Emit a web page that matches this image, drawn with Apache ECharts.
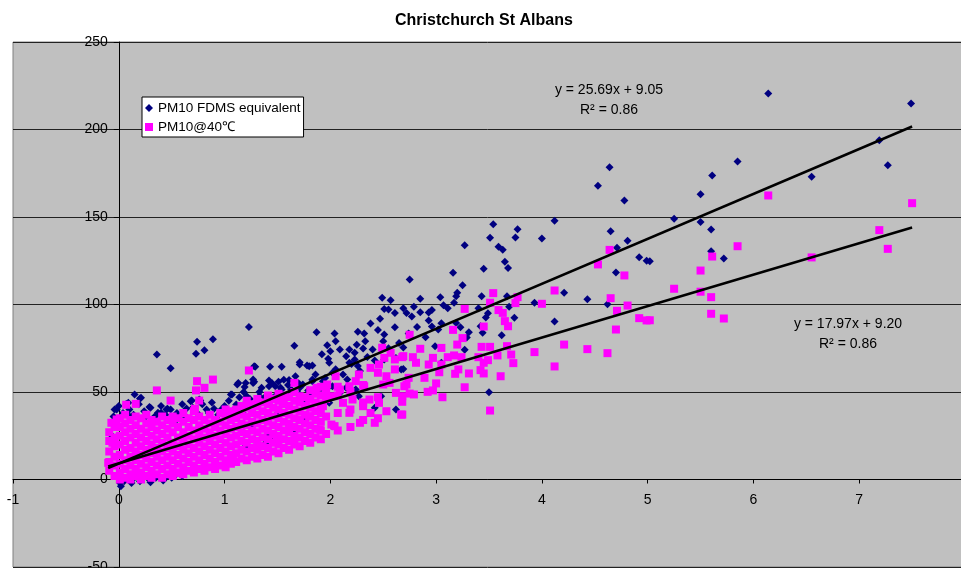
<!DOCTYPE html>
<html>
<head>
<meta charset="utf-8">
<script src="https://cdn.jsdelivr.net/npm/echarts@6/dist/echarts.min.js"></script>
<style>html,body{margin:0;padding:0;background:#fff}#chart{width:961px;height:568px}</style>
</head>
<body>
<div id="chart"></div>
<script>
// ---------- DATA ----------
const chartTitle = 'Christchurch St Albans';
const seriesNames = ['PM10 FDMS equivalent', 'PM10@40\u2103'];

// PM10 FDMS equivalent (navy diamonds), individual points
const fdmsPoints = [
[6.14,220.6],[7.49,214.9],[7.19,193.9],[7.27,179.6],[5.85,181.7],[5.61,173.7],[5.50,163],[6.55,173],[5.25,149],[5.50,147.2],[5.60,142.9],[5.60,130.5],[5.72,126.3],[5.02,124.7],
[4.64,178.5],[4.53,167.8],[4.78,159.4],[4.12,147.8],[4.00,137.7],[4.65,141.9],[4.81,136.4],[4.71,132.4],[4.92,127],[4.99,125],[4.70,118.3],[4.21,106.7],[4.43,103],[4.62,100.2],[4.12,90.3],
[3.54,145.9],[3.77,143],[3.51,138.1],[3.75,138.3],[3.27,133.9],[3.59,133],[3.63,131.3],[3.65,124.4],[3.68,120.8],[3.45,120.4],[3.16,118.1],[2.75,114.3],[3.25,111],[3.20,106.7],[3.19,104.7],[3.04,104.2],[2.85,103.3],[3.43,104.7],[3.17,101],[3.93,101],[3.67,104.7],[3.07,99.6],[2.96,96.8],[2.79,98.7],[2.69,97.9],[2.72,95.2],[2.77,93.1],[2.85,95.6],[2.93,95.4],[3.11,97.9],[3.40,97.9],[3.49,95],[3.47,92.6],[3.69,98.7],[3.74,92.4],[2.93,90.9],[2.82,87.2],[2.96,87.4],[3.05,89.3],[3.19,89.5],[3.23,87],[3.42,87.6],[2.74,83.4],[3.02,85.7],[3.31,84.2],[2.90,81.3],[3.29,81.1],[3.62,82.5],[3.44,83.8],[2.69,75.4],[2.99,76.2],[3.27,74.1],[3.50,49.9],[2.67,62.9],[3.05,66.7],
[2.49,103.8],[2.57,102.5],[2.51,97.5],[2.55,97.1],[2.61,95.2],[2.47,91.8],[2.38,89.1],[2.61,87],[2.45,85.5],[2.51,82.9],[1.87,84.2],[2.04,83.4],[2.26,84.4],[2.32,83.4],[2.05,79],[2.33,79],[2.50,79],[1.97,76.7],[2.25,77],[1.66,76.4],[2.09,74.3],[2.18,74.3],[2.00,73.3],[2.23,72.4],[2.31,74.9],[2.40,74.3],[1.92,71.6],[2.15,70.5],[1.98,69],[2.23,68.6],[2.51,68.6],[2.62,69.5],[1.71,67],[1.78,65.1],[1.83,65.1],[2.18,66.7],[2.26,64.8],[1.29,64.4],[1.43,64.4],[1.54,64.4],[2.69,63.2],[1.28,55.8],[1.42,56.6],[1.51,55.8],[1.61,56.8],[1.83,57.1],[1.93,56.2],[1.35,52.4],[1.48,53.3],[1.54,51.4],[1.71,52.4],[1.79,50.9],[1.87,51.4],[2.02,53.3],[1.33,47.6],[1.60,47.6],[1.81,48.6],[2.06,47.6],[2.27,47.6],[2.42,41],[2.48,47.6],[2.62,40],[1.42,25.7],[1.65,26.7],[1.99,43.8],
[1.23,87.2],[0.89,80.2],[0.74,78.7],[0.81,73.9],[0.73,71.8],[0.36,71.4],[0.49,63.6],[1.28,64.7],[1.27,55.2],[1.13,55.2],[1.19,52.8],[1.07,48.6],[1.21,47.6],[0.15,48.6],[0.20,46.3],[0.07,43.2],[-0.02,40],[0.29,41.5],[0.69,45.1],[0.77,45.1],[0.40,38.1],[0.46,40.4],[0.64,40.6],[0.55,34.3],[0.83,40],[0.90,40.4],[1.01,39],[0.10,36.2],[0.26,36.2],[-0.06,24.7],[1.17,38.1],[0.01,-1.9],[0.13,0],[0.54,2.9],[1.20,19],
[-0.04,40],[0.09,43.8],[0.21,46.7],[0.37,38.1],[0.45,40],[0.68,44.7],[0.76,45.7],[0.97,40],[1.06,48.6],[1.12,54.3],[1.20,55.2],[1.27,57.1],[1.30,43.8],[1.11,42.9],[1.20,43.8],[1.42,53.3],[1.46,46.7],[1.53,52.4],[1.63,51.4],[1.71,48.6],[1.74,54.3],[1.83,56.2],[1.77,43.8],[1.90,51.4],[1.99,53.3],[2.02,61],[2.09,49.5],[2.15,52.4],[2.16,57.1],[2.24,51.4],[1.71,65.7],[1.80,64.7],[1.99,66.7],
[1.27,22.9],[1.39,21],[1.46,24.8],[1.25,30.5],[1.49,37],[1.77,34.3],[2.02,30.5],
[0.02,-3.8],[0.05,-1],[0.20,-1],[0.28,0.5],[0.35,1],[0.42,-0.5],[0.50,1],[0.60,2],[0.30,-1.5],[0.12,-2],[0.45,1.5],
[-0.05,36],[0.00,42],[0.04,38],[0.10,40],[0.14,37],[0.19,43],[0.24,39],[0.30,41],[0.34,36],[0.40,42],[0.44,37],[0.49,40],[0.55,38],[0.60,43],[0.63,36],[0.70,41],[0.74,38],[0.79,43],[0.85,38],[0.88,44],[0.94,37],[1.00,42],[1.04,45],[1.09,40],[1.14,47],[1.18,50],[1.24,46],[1.33,50],[1.38,47],[1.45,55],[1.50,49],[1.56,57],[1.60,54],[1.67,59],[1.70,55],[1.86,60],[1.95,58],[2.05,63],[2.12,60],[2.20,66],[2.28,62],[2.35,70],[2.42,68],[2.55,75],[2.65,78]
];

// PM10@40C (magenta squares), individual points
const pm40Points = [
[6.14,162.3],[7.50,157.9],[7.19,142.5],[7.27,131.8],[5.85,133.3],[6.55,126.9],[5.50,119.4],[5.61,127.4],[5.25,109],[5.50,107.3],[5.60,104.2],[5.60,94.7],[5.72,92],[5.02,91],
[4.64,131.2],[4.53,122.9],[4.78,116.6],[4.12,108],[4.00,100.4],[4.65,103.6],[4.71,96.4],[4.81,99.4],[4.92,92.2],[4.99,90.9],[4.70,85.7],[4.21,77.1],[4.43,74.5],[4.62,72.2],[4.12,64.6],
[3.54,106.5],[3.77,104.2],[3.51,101],[3.75,100.8],[3.27,97.5],[3.59,96.8],[3.63,95.2],[3.65,90.5],[3.68,87.6],[3.45,87.4],[3.16,85.5],[2.75,82.7],[3.25,80.8],[3.93,72.8],[3.43,75.8],[3.51,75.8],[3.67,76.2],[3.20,77.1],[3.05,75.2],[2.85,74.7],[3.58,70.9],[3.71,71.4],[3.73,66.5],[3.49,68.2],[3.40,69.9],[3.24,69.9],[3.17,70.9],[3.11,69.9],[2.97,69.5],[2.78,69.9],[2.68,69.9],[3.05,65.7],[2.93,65.7],[2.81,66.7],[3.45,66.7],[3.42,62.5],[3.21,62.9],[3.31,60.6],[3.45,60.6],[3.03,61.3],[3.18,60.4],[2.89,58.1],[3.61,59],[2.74,58.1],[2.70,53.3],[3.00,54.9],[3.27,52.7],[2.92,50.1],[2.97,50.9],[2.75,49.1],[2.79,48.6],[3.06,47],[2.68,44.4],[2.68,37.1],[3.51,39.4],
[2.49,75.3],[2.57,72.4],[2.51,69.5],[2.69,70.5],[2.61,68.6],[2.46,65.7],[2.38,63.8],[2.61,62.9],[2.45,61],[2.53,59],[2.27,60],[2.05,59],[2.72,54.3],[2.62,49.5],[2.68,47.6],[1.97,54.3],[2.24,56.2],[2.32,53.3],[1.66,55.2],[1.87,52.4],[1.96,50.5],[2.09,51.4],[2.18,53.3],[2.50,54.3],[2.56,55.2],[1.71,47.6],[1.80,45.7],[2.02,47.6],[2.12,43.8],[2.21,45.7],[2.37,45.7],[2.46,43.8],[2.31,41.9],[1.93,41.9],[1.55,43.8],[1.42,43.8],[1.30,41.9],[2.53,39],[2.67,37.1],[2.38,38],[2.28,32.4],[2.42,32.4],[2.01,31.4],[1.90,28.6],[2.04,30.5],[2.18,38.1],[1.71,34.3],[1.61,30.5],[1.49,22.9],[1.64,21.9],[1.33,19],[1.80,36.2],
[1.23,62.3],[0.89,57.1],[0.74,56.2],[0.81,52.4],[0.73,50.9],[0.36,50.9],[0.49,45.1],[0.76,45.1],[0.16,43.2],[0.07,42.7],[0.72,40.4],[-0.07,32.4],[-0.02,34.3],[-0.06,21],[-0.10,9.5],[1.08,13.3],[0.55,3.8]
];

// PM10@40C dense cloud near the origin, read column by column: [x, [y values]]
const pm40Cloud = [
[-0.09,[5,10,16,22,27]],[-0.04,[2,8,13,19,24,30]],[0.01,[0,4,9,14,20,25,30,35]],[0.06,[1,6,11,17,22,27,32,37]],
[0.11,[0,3,8,13,18,24,29,34]],[0.16,[2,6,11,16,21,26,31,36]],[0.21,[0,4,9,14,19,24,29,35]],[0.26,[2,7,12,17,22,27,32,37]],
[0.31,[1,5,10,15,20,25,30,34]],[0.36,[3,8,13,18,23,28,33]],[0.41,[1,6,11,16,21,26,31,36]],[0.46,[3,8,13,18,24,29,34]],
[0.51,[2,6,11,16,21,27,32,36]],[0.56,[4,9,14,19,24,30,35]],[0.61,[3,7,12,17,22,27,33,38]],[0.66,[5,10,15,20,25,30,35]],
[0.71,[4,8,13,18,23,28,34,39]],[0.76,[6,11,16,21,26,31,36]],[0.81,[5,9,14,19,24,29,34]],[0.86,[7,12,17,22,27,32,37]],
[0.91,[6,10,15,20,25,30,34]],[0.96,[8,13,18,23,28,33,38]],[1.01,[7,11,16,21,26,31,36,40]],[1.06,[9,14,19,24,29,34,39]],
[1.11,[10,15,20,25,30,35,40]],[1.16,[12,17,22,27,32,37,42]],[1.21,[11,16,21,26,31,36,41,45]],[1.26,[13,18,23,28,33,38,43]],
[1.31,[12,17,22,27,32,37,42,46]],[1.36,[14,19,24,29,34,39,44]],[1.41,[13,18,23,28,33,38,43,48]],[1.46,[16,21,26,31,36,41,46]],
[1.51,[15,20,25,30,35,40,45,49]],[1.56,[18,23,28,33,38,43,48]],[1.61,[17,22,27,32,37,42,47]],[1.66,[20,25,30,35,40,45,50]],
[1.71,[19,24,29,34,39,44]],[1.76,[22,27,32,37,42,47]],[1.81,[21,26,31,36,41,46,51]],[1.86,[24,29,34,39,44,49]],
[1.91,[23,28,33,38,43,48,53]],[1.96,[26,36,46]],[2.07,[28,38,48,53]],[2.19,[30,40,50]],[2.31,[34,44,54]],[2.45,[35,47]]
];

// Linear trend lines as drawn on the picture (end points)
const fdmsTrend = [[-0.1, 6.5], [7.5, 201.7]];
const pm40Trend = [[-0.1, 7.4], [7.5, 144.0]];
const fdmsEquation = ['y = 25.69x + 9.05', 'R\u00b2 = 0.86'];
const pm40Equation = ['y = 17.97x + 9.20', 'R\u00b2 = 0.86'];

// axis ranges
const xRange = [-1, 8, 1];
const yRange = [-50, 250, 50];

// ---------- CHART ----------
const pm40All = pm40Points.slice();
pm40Cloud.forEach(function (c) { c[1].forEach(function (y) { pm40All.push([c[0], y]); }); });

const FONT = '"Liberation Sans", Arial, sans-serif';
const GRID = { left: 13, top: 42, width: 952, height: 525 };
// axes cross at zero: shift each axis from the grid edge to the zero of the other axis
const xAxisOffset = -GRID.height * (0 - yRange[0]) / (yRange[1] - yRange[0]);
const yAxisOffset = -GRID.width * (0 - xRange[0]) / (xRange[1] - xRange[0]);

const chart = echarts.init(document.getElementById('chart'), null, { renderer: 'canvas' });

function eqText(x, y, s) {
  return { type: 'text', x: x, y: y, z: 100,
    style: { text: s, font: '14px ' + FONT, fill: '#000', textAlign: 'center', textVerticalAlign: 'middle', align: 'center', verticalAlign: 'middle' } };
}

chart.setOption({
  animation: false,
  backgroundColor: '#ffffff',
  title: {
    text: chartTitle, left: 395, top: 13, padding: 0,
    textStyle: { fontFamily: FONT, fontSize: 16, fontWeight: 'bold', color: '#000' }
  },
  legend: {
    data: [{ name: seriesNames[0], icon: 'diamond' }, { name: seriesNames[1], icon: 'rect' }],
    orient: 'vertical', left: 142, top: 97,
    backgroundColor: '#ffffff', borderColor: '#000', borderWidth: 1, borderRadius: 0,
    padding: [4, 3, 3, 3], itemGap: 5, itemWidth: 8, itemHeight: 8,
    textStyle: { fontFamily: FONT, fontSize: 13.5, color: '#000' }
  },
  grid: {
    left: GRID.left, top: GRID.top, width: GRID.width, height: GRID.height, show: true,
    containLabel: false, outerBoundsMode: 'none',
    backgroundColor: '#c0c0c0', borderColor: '#808080', borderWidth: 1
  },
  xAxis: {
    type: 'value', min: xRange[0], max: xRange[1], interval: xRange[2],
    position: 'bottom', offset: xAxisOffset,
    axisLine: { onZero: false, lineStyle: { color: '#000', width: 1 } },
    axisTick: { show: true, length: 4, lineStyle: { color: '#000' } },
    axisLabel: { show: true, showMinLabel: true, showMaxLabel: false, margin: 14, color: '#000', fontFamily: FONT, fontSize: 14 },
    splitLine: { show: false }
  },
  yAxis: {
    type: 'value', min: yRange[0], max: yRange[1], interval: yRange[2],
    position: 'left', offset: yAxisOffset,
    axisLine: { onZero: false, lineStyle: { color: '#000', width: 1 } },
    axisTick: { show: true, length: 5, lineStyle: { color: '#000' } },
    axisLabel: { show: true, showMinLabel: true, showMaxLabel: true, margin: 11, color: '#000', fontFamily: FONT, fontSize: 14 },
    splitLine: { show: true, lineStyle: { color: '#222', width: 1 } }
  },
  graphic: [
    eqText(609, 90, fdmsEquation[0]), eqText(609, 110, fdmsEquation[1]),
    eqText(848, 324, pm40Equation[0]), eqText(848, 344, pm40Equation[1])
  ],
  series: [
    { name: seriesNames[0], type: 'scatter', data: fdmsPoints, symbol: 'diamond', symbolSize: 8,
      itemStyle: { color: '#000080', opacity: 1 }, z: 2 },
    { name: seriesNames[1], type: 'scatter', data: pm40All, symbol: 'rect', symbolSize: 8,
      itemStyle: { color: '#ff00ff', opacity: 1 }, z: 3 },
    { name: 'fdmsTrend', type: 'line', data: fdmsTrend, showSymbol: false, symbol: 'none', silent: true,
      lineStyle: { color: '#000', width: 2.5 }, z: 4 },
    { name: 'pm40Trend', type: 'line', data: pm40Trend, showSymbol: false, symbol: 'none', silent: true,
      lineStyle: { color: '#000', width: 2.5 }, z: 4 }
  ]
});
</script>
</body>
</html>
